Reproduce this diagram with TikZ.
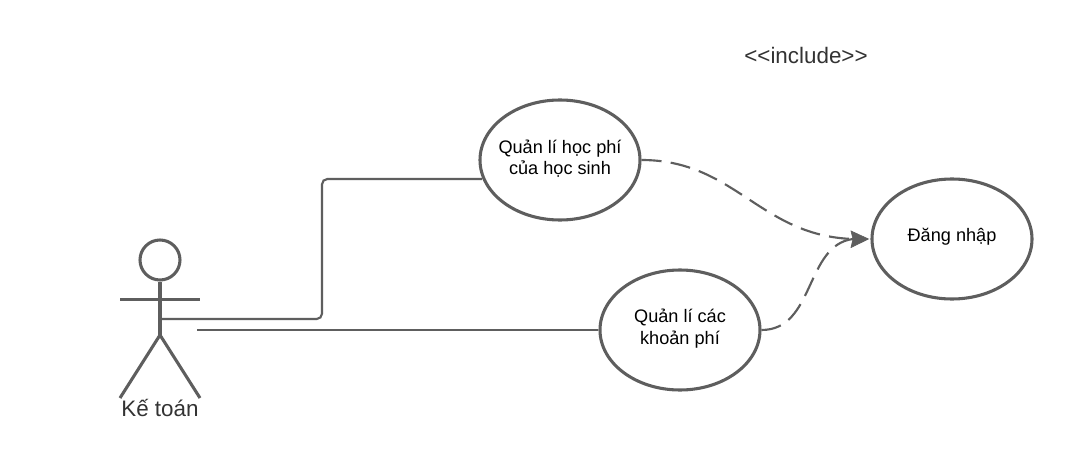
\documentclass[tikz,border=0pt]{standalone}
\usepackage{fontspec}
\setmainfont{Liberation Sans}
\usetikzlibrary{shapes.geometric}
\definecolor{linegray}{HTML}{5E5E5E}
\definecolor{textdark}{HTML}{333333}
\tikzset{
  usecase/.style={ellipse,draw=linegray,line width=2.3pt,fill=white,minimum width=120pt,minimum height=90pt,inner sep=0pt},
  casetext/.style={inner sep=0pt,align=center,font=\fontsize{13.6}{16.4}\selectfont,text=black},
  actorline/.style={draw=linegray,line width=2.3pt},
  assoc/.style={draw=linegray,line width=1.6pt,rounded corners=4pt},
  incl/.style={draw=linegray,line width=1.6pt,dash pattern=on 15pt off 7pt},
  tip/.style={draw=linegray,line width=0.5pt,line join=miter,fill=linegray},
  caption/.style={inner sep=0pt,text=textdark,font=\fontsize{16.8}{20}\selectfont}
}
\begin{document}
\begin{tikzpicture}[x=0.75pt,y=-0.75pt]
\useasboundingbox (0,0) rectangle (1072,460);
\fill[white] (0,0) rectangle (1072,460);
% actor
\node[circle,draw=linegray,line width=2.3pt,minimum size=30pt,inner sep=0pt] (head) at (160,260) {};
\coordinate (hip) at (160,335);
\coordinate (armL) at (120,299.5);
\coordinate (armR) at (200,299.5);
\coordinate (legL) at (120,398);
\coordinate (legR) at (200,398);
\draw[actorline] (head.south) -- (hip);
\draw[actorline] (armL) -- (armR);
\draw[actorline] (legL) -- (hip) -- (legR);
\node[caption] (actor) at (160,408.5) {Kế toán};
% use cases
\node[usecase,label={[casetext,yshift=1pt]center:{Quản lí học phí\\của học sinh}}] (fee) at (560,160) {};
\node[usecase,label={[casetext,yshift=1pt]center:{Quản lí các\\khoản phí}}] (other) at (680,330) {};
\node[usecase,label={[casetext,yshift=1.5pt]center:{Đăng nhập}}] (login) at (952,239) {};
% associations
\coordinate (a1) at (160,319);
\coordinate (a2) at (197,330);
\coordinate (tipback) at (853,239);
\draw[assoc] (a1) -- (322,319) -- (322,179) -- (482,179);
\draw[assoc] (a2) -- (other.west |- a2);
% include
\draw[incl] (fee.east) .. controls (735,160) and (760,236) .. (tipback);
\draw[incl] (other.east) .. controls (815,330) and (805,245) .. (tipback);
\draw[tip] (login.west) ++(-2,0) -- (851,231) -- (853,239) -- (851,247.5) -- cycle;
\node[caption] (stereo) at (806,55) {<{}<include>{}>};
\end{tikzpicture}
\end{document}
